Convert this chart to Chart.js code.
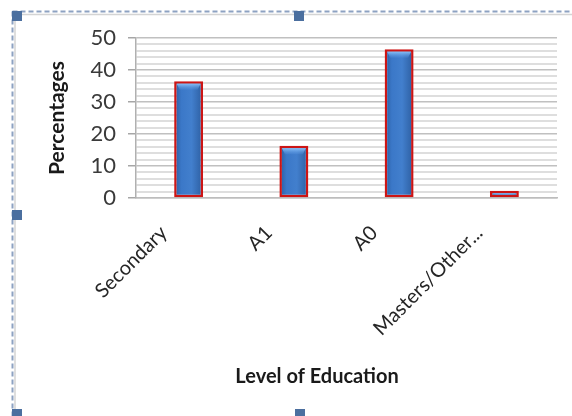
<!DOCTYPE html>
<html>
<head>
<meta charset="utf-8">
<title>Level of Education</title>
<script src="https://cdn.jsdelivr.net/npm/chart.js@4/dist/chart.umd.min.js"></script>
<style>
  html, body { margin: 0; padding: 0; background: #ffffff; }
  #wrap { width: 572px; height: 416px; position: relative; }
</style>
</head>
<body>
<div id="wrap"><canvas id="chart" width="572" height="416"></canvas></div>
<script>
// Respondents by highest level of education (%)
const categories = ['Secondary', 'A1', 'A0', 'Masters/Other...'];
const percentages = [36.5, 16.3, 46.5, 2.3];
const yAxisMax = 50;
const yMinorStep = 2;
const yMajorStep = 10;
const yAxisTitle = 'Percentages';
const xAxisTitle = 'Level of Education';

const FONT = 'Lato, "Open Sans", "Liberation Sans", sans-serif';

// Bars get a horizontal shading: darker at the sides, lighter toward the centre.
function barFill(ctx) {
  const chart = ctx.chart;
  const area = chart.chartArea;
  if (!area) return '#3a76c6';
  const xs = chart.scales.x;
  const cx = xs.getPixelForValue(ctx.dataIndex);
  const w = (area.right - area.left) / categories.length * 0.275;
  const g = chart.ctx.createLinearGradient(cx - w / 2, 0, cx + w / 2, 0);
  g.addColorStop(0, '#2a5b9e');
  g.addColorStop(0.25, '#3b78c8');
  g.addColorStop(0.6, '#427fcd');
  g.addColorStop(1, '#2c5d9f');
  return g;
}

// Lighter bevel along the top of every bar, taken from the bar elements themselves.
const bevelPlugin = {
  id: 'bevel',
  afterDatasetsDraw(chart) {
    const c = chart.ctx;
    const meta = chart.getDatasetMeta(0);
    c.save();
    meta.data.forEach((bar) => {
      const p = bar.getProps(['x', 'y', 'base', 'width'], true);
      const inset = 2.5;
      const h = Math.min(6, (p.base - p.y) - 2 * inset);
      if (h <= 0) return;
      const left = p.x - p.width / 2 + inset;
      const right = p.x + p.width / 2 - inset;
      const top = p.y + inset;
      const g = c.createLinearGradient(0, top, 0, top + h);
      g.addColorStop(0, 'rgba(140,195,250,0.95)');
      g.addColorStop(1, 'rgba(90,150,225,0.2)');
      c.fillStyle = g;
      c.beginPath();
      c.moveTo(left, top);
      c.lineTo(right, top);
      c.lineTo(right - 3, top + h);
      c.lineTo(left + 3, top + h);
      c.closePath();
      c.fill();
    });
    c.restore();
  }
};

// Selection frame with dashed edges and square handles around the chart object.
const framePlugin = {
  id: 'frame',
  beforeDraw(chart) {
    const c = chart.ctx;
    c.save();
    c.strokeStyle = '#d4d4d4';
    c.lineWidth = 1.5;
    c.beginPath();
    c.moveTo(15, 18); c.lineTo(15, 416);
    c.moveTo(18, 14.5); c.lineTo(572, 14.5);
    c.stroke();
    c.strokeStyle = '#8da2c2';
    c.lineWidth = 2;
    c.setLineDash([5, 3]);
    c.beginPath();
    c.moveTo(12.5, 11.5); c.lineTo(572, 11.5);
    c.moveTo(12.5, 11.5); c.lineTo(12.5, 416);
    c.stroke();
    c.setLineDash([]);
    c.fillStyle = '#4b6f9f';
    [[12, 11], [294, 11], [12, 210], [12, 409], [295, 409]].forEach(([x, y]) => {
      c.fillRect(x, y, 10, 10);
    });
    c.restore();
  }
};

// Category-axis title, set slightly left of the plot centre.
const xTitlePlugin = {
  id: 'xTitle',
  afterDraw(chart) {
    const a = chart.chartArea;
    const c = chart.ctx;
    c.save();
    c.font = 'bold 20px ' + FONT;
    c.fillStyle = '#1a1a1a';
    c.textAlign = 'center';
    c.textBaseline = 'middle';
    c.fillText(xAxisTitle, a.left + (a.right - a.left) * 0.43, 377);
    c.restore();
  }
};

new Chart(document.getElementById('chart'), {
  type: 'bar',
  data: {
    labels: categories,
    datasets: [{
      data: percentages,
      backgroundColor: barFill,
      borderColor: '#cc1515',
      borderWidth: 2.5,
      borderSkipped: false,
      barPercentage: 0.275,
      categoryPercentage: 1.0
    }]
  },
  options: {
    responsive: false,
    animation: false,
    devicePixelRatio: 1,
    layout: { padding: { left: 0, top: 38, right: 15, bottom: 0 } },
    plugins: {
      legend: { display: false },
      tooltip: { enabled: false },
      title: { display: false }
    },
    scales: {
      x: {
        grid: { display: false, drawTicks: false },
        border: { display: true, color: '#bdbdbd', width: 1.5 },
        ticks: {
          font: { family: FONT, size: 20 },
          color: '#262626',
          minRotation: 45,
          maxRotation: 45,
          padding: 23,
          labelOffset: -25,
          autoSkip: false
        },
        afterFit(scale) { scale.height = 218; }
      },
      y: {
        min: 0,
        max: yAxisMax,
        grid: {
          color: (ctx) => (ctx.tick && ctx.tick.value % yMajorStep === 0) ? '#c0c0c0' : '#dedede',
          lineWidth: (ctx) => (ctx.tick && ctx.tick.value % yMajorStep === 0) ? 1.5 : 2,
          tickColor: (ctx) => (ctx.tick && ctx.tick.value % yMajorStep === 0) ? '#a6a6a6' : 'rgba(0,0,0,0)',
          tickLength: 8,
          tickWidth: 1.5
        },
        border: { display: true, color: '#b0b0b0', width: 1.5 },
        ticks: {
          stepSize: yMinorStep,
          autoSkip: false,
          font: { family: FONT, size: 22 },
          color: '#3a3a3a',
          padding: 12,
          callback: (v) => (v % yMajorStep === 0 ? String(v) : '')
        },
        title: {
          display: true,
          text: yAxisTitle,
          font: { family: FONT, size: 21, weight: 'bold' },
          color: '#1a1a1a',
          padding: { top: 45, bottom: 0 }
        },
        afterFit(scale) { scale.width = 136; }
      }
    }
  },
  plugins: [framePlugin, bevelPlugin, xTitlePlugin]
});
</script>
</body>
</html>
